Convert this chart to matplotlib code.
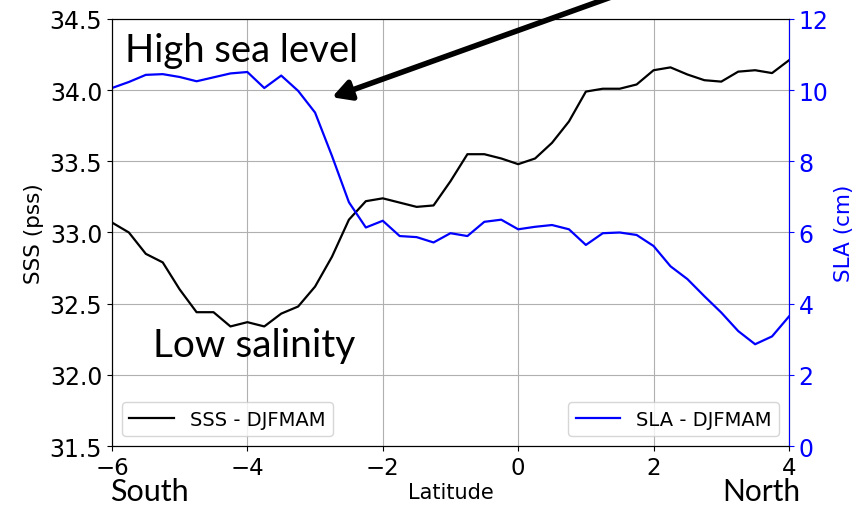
import numpy as np
from matplotlib import pyplot as plt

# latitude grid (0.25 deg)
lat = np.arange(-6, 4.01, 0.25)

# sea surface salinity (pss)
sss = [33.07, 33.00, 32.85, 32.79, 32.60, 32.44, 32.44, 32.34, 32.37, 32.34,
       32.43, 32.48, 32.62, 32.83, 33.09, 33.22, 33.24, 33.21, 33.18, 33.19,
       33.36, 33.55, 33.55, 33.52, 33.48, 33.52, 33.63, 33.78, 33.99, 34.01,
       34.01, 34.04, 34.14, 34.16, 34.11, 34.07, 34.06, 34.13, 34.14, 34.12,
       34.21]

# sea level anomaly (cm)
sla = [10.06, 10.23, 10.43, 10.45, 10.37, 10.25, 10.36, 10.47, 10.51, 10.06,
       10.41, 9.98, 9.37, 8.15, 6.85, 6.14, 6.33, 5.90, 5.87, 5.72,
       5.98, 5.90, 6.30, 6.36, 6.09, 6.16, 6.21, 6.09, 5.65, 5.98,
       6.00, 5.93, 5.62, 5.05, 4.69, 4.21, 3.75, 3.23, 2.86, 3.08,
       3.64]

fig = plt.figure(figsize=(8.56, 5.06), dpi=100)
ax = fig.add_axes([0.1308, 0.1166, 0.7909, 0.8439])
ax.plot(lat, sss, color='black', lw=1.6, label='SSS - DJFMAM')
ax.set_xlim(-6, 4)
ax.set_ylim(31.5, 34.5)
ax.set_xticks([-6, -4, -2, 0, 2, 4])
ax.set_yticks(np.arange(31.5, 34.51, 0.5))
ax.set_yticklabels(['%.1f' % v for v in np.arange(31.5, 34.51, 0.5)])
ax.grid(True, color='#b0b0b0', lw=0.8)
ax.tick_params(axis='y', labelsize=17)
ax.tick_params(axis='x', labelsize=16.5)
ax.set_ylabel('SSS (pss)', fontsize=15.5)
ax.set_xlabel('Latitude', fontsize=15, labelpad=2)
ax.legend(loc='lower left', fontsize=14, handlelength=2.3)

ax2 = ax.twinx()
ax2.plot(lat, sla, color='blue', lw=1.6, label='SLA - DJFMAM')
ax2.set_ylim(0, 12)
ax2.set_yticks(np.arange(0, 13, 2))
ax2.tick_params(axis='y', colors='blue', labelsize=17)
ax2.spines['right'].set_color('blue')
ax2.set_ylabel('SLA (cm)', color='blue', fontsize=15.5)
ax2.legend(loc='lower right', fontsize=14, handlelength=2.3)

ff = ['Lato', 'DejaVu Sans']
fig.text(125 / 856, 1 - 62 / 506, 'High sea level', fontsize=27.5, family=ff)
fig.text(153 / 856, 1 - 357 / 506, 'Low salinity', fontsize=28, family=ff)
fig.text(110 / 856, 1 - 501 / 506, 'South', fontsize=22, family=ff)
fig.text(722 / 856, 1 - 501 / 506, 'North', fontsize=21.5, family=ff)

ax.annotate('', xy=(-2.75, 33.95), xytext=(1.7, 34.71),
            arrowprops=dict(arrowstyle='-|>,head_length=0.55,head_width=0.3',
                            lw=4, color='black', mutation_scale=20,
                            shrinkA=0, shrinkB=0),
            annotation_clip=False)

fig.savefig('out.png', dpi=100)
